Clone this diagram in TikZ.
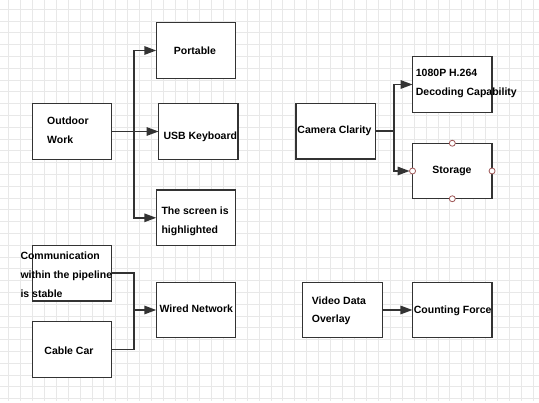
\documentclass[tikz,border=0pt]{standalone}
\usepackage{fontspec}
\setmainfont{Liberation Sans}
\usetikzlibrary{arrows.meta}
\definecolor{gridc}{HTML}{E8E8E8}
\definecolor{boxc}{HTML}{333333}
\definecolor{linec}{HTML}{333333}
\definecolor{portc}{HTML}{A05A5A}
\tikzset{
  boxnode/.style={draw=boxc, line width=1.3pt, fill=white, minimum width=79.5pt, minimum height=55.5pt, inner sep=0pt, outer sep=0pt},
  lbl/.style={font=\fontsize{10.5}{18.8}\selectfont\bfseries, align=left, inner sep=0pt, text=black, yshift=-1pt},
  conn/.style={draw=linec, line width=1.6pt},
  arr/.style={conn, -{Triangle[length=12pt,width=8.5pt]}},
  portnode/.style={circle, draw=portc, fill=white, line width=0.8pt, minimum size=6pt, inner sep=0pt}
}
\begin{document}
\begin{tikzpicture}[x=1pt,y=-1pt]
\useasboundingbox (0,0) rectangle (539,403);
\fill[white] (0,0) rectangle (539,403);
% grid
\foreach \i in {0,...,44} {
  \draw[gridc, line width=0.9pt] ({8.5+11.93*\i},0) -- ({8.5+11.93*\i},401);
}
\foreach \j in {0,...,33} {
  \draw[gridc, line width=0.9pt] (0,{9.2+11.8*\j}) -- (539,{9.2+11.8*\j});
}
% boxes
\node[boxnode] (port) at (196,50.5) {};
\node[boxnode] (usb) at (198.3,131.5) {};
\node[boxnode] (scr) at (196,217.8) {};
\node[boxnode] (ow) at (72,131.5) {};
\node[boxnode] (cam) at (335.7,131.2) {};
\node[boxnode] (dec) at (452.3,84.5) {};
\node[boxnode] (sto) at (452.3,171) {};
\node[boxnode] (com) at (72,273.2) {};
\node[boxnode] (cab) at (72,349.5) {};
\node[boxnode] (wir) at (196,310) {};
\node[boxnode] (vid) at (342.5,310) {};
\node[boxnode] (cnt) at (452.2,310) {};
% connectors
\coordinate (t1) at (134,131.5);
\draw[conn] (ow.east) -- (t1);
\draw[arr] (t1) -- (usb.west);
\draw[arr] (t1) |- (port.west);
\draw[arr] (t1) |- (scr.west);
\coordinate (t2) at (394,131.2);
\draw[conn] (cam.east) -- (t2);
\draw[arr] (t2) |- (dec.west);
\draw[arr] (t2) |- ([xshift=-3pt]sto.west);
\coordinate (t3) at (134,310);
\draw[conn] (com.east) -| (t3);
\draw[conn] (cab.east) -| (t3);
\draw[arr] (t3) -- (wir.west);
\draw[arr] (vid.east) -- (cnt.west);
% ports on storage
\node[portnode] (pn) at (sto.north) {};
\node[portnode] (pw) at (sto.west) {};
\node[portnode] (pe) at (sto.east) {};
\node[portnode] (ps) at (sto.south) {};
% labels
\node[lbl] (lport) at (195,50) {Portable};
\node[lbl] (lusb) at (200.3,136) {USB Keyboard};
\node[lbl, anchor=west] (lscr) at (161.3,220.5) {The screen is\\highlighted};
\node[lbl, anchor=west] (low) at (47,129.5) {Outdoor\\Work};
\node[lbl] (lcam) at (334.5,130) {Camera Clarity};
\node[lbl, anchor=west] (ldec) at (415.7,82.5) {1080P H.264\\Decoding Capability};
\node[lbl] (lsto) at (452,170) {Storage};
\node[lbl, anchor=west] (lcom) at (20.3,273.7) {Communication\\within the pipeline\\is stable};
\node[lbl] (lcab) at (69,350) {Cable Car};
\node[lbl] (lwir) at (196.3,308) {Wired Network};
\node[lbl, anchor=west] (lvid) at (311.7,309.8) {Video Data\\Overlay};
\node[lbl] (lcnt) at (452.7,310) {Counting Force};
\end{tikzpicture}
\end{document}
